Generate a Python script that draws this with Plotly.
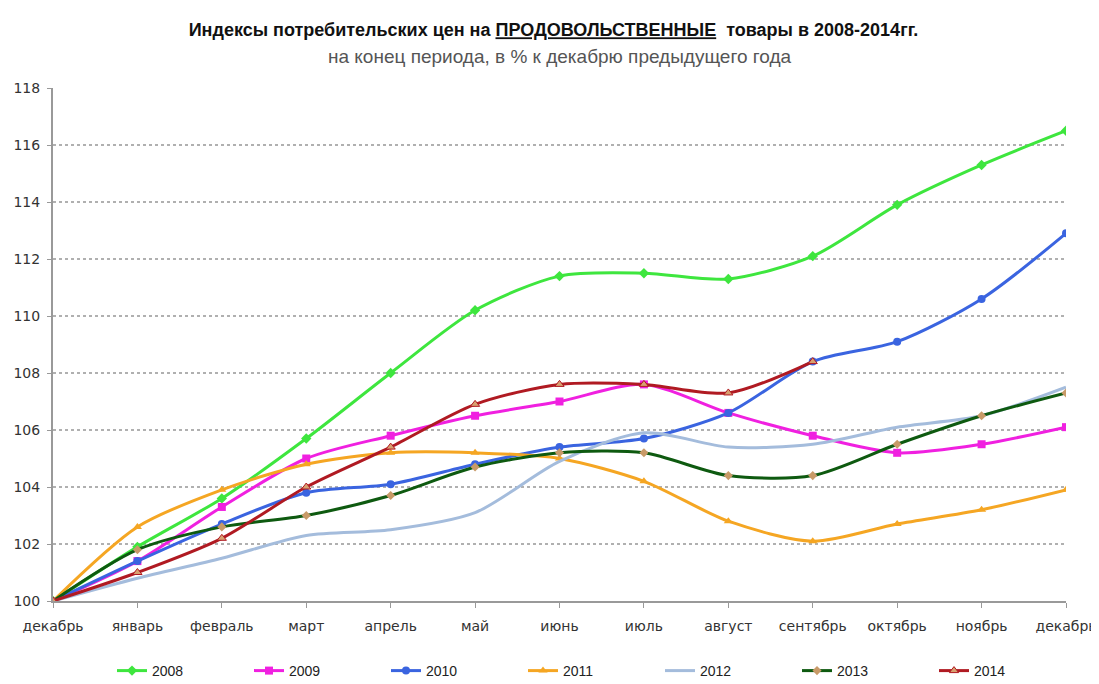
import plotly.graph_objects as go

months = ["декабрь", "январь", "февраль", "март", "апрель", "май", "июнь",
          "июль", "август", "сентябрь", "октябрь", "ноябрь", "декабрь"]

y2008 = [100, 101.9, 103.6, 105.7, 108.0, 110.2, 111.4, 111.5, 111.3, 112.1, 113.9, 115.3, 116.5]
y2009 = [100, 101.4, 103.3, 105.0, 105.8, 106.5, 107.0, 107.6, 106.6, 105.8, 105.2, 105.5, 106.1]
y2010 = [100, 101.4, 102.7, 103.8, 104.1, 104.8, 105.4, 105.7, 106.6, 108.4, 109.1, 110.6, 112.9]
y2011 = [100, 102.6, 103.9, 104.8, 105.2, 105.2, 105.0, 104.2, 102.8, 102.1, 102.7, 103.2, 103.9]
y2012 = [100, 100.8, 101.5, 102.3, 102.5, 103.1, 104.9, 105.9, 105.4, 105.5, 106.1, 106.5, 107.5]
y2013 = [100, 101.8, 102.6, 103.0, 103.7, 104.7, 105.2, 105.2, 104.4, 104.4, 105.5, 106.5, 107.3]
y2014 = [100, 101.0, 102.2, 104.0, 105.4, 106.9, 107.6, 107.6, 107.3, 108.4]

y_ticks = [100, 102, 104, 106, 108, 110, 112, 114, 116, 118]

x = list(range(len(months)))

series = [
    ("2008", y2008, "#3ee63e", dict(symbol="diamond", size=8, color="#3ee63e")),
    ("2009", y2009, "#f020e0", dict(symbol="square", size=8, color="#f020e0")),
    ("2010", y2010, "#3a64e0", dict(symbol="circle", size=8, color="#3a64e0")),
    ("2011", y2011, "#f5a623", dict(symbol="triangle-up", size=8, color="#f5a623")),
    ("2012", y2012, "#a4bcdc", None),
    ("2013", y2013, "#0e5a10", dict(symbol="diamond", size=7, color="#c89a68")),
    ("2014", y2014, "#b01a22", dict(symbol="triangle-up", size=8, color="#d8a070",
                                    line=dict(color="#b01a22", width=1))),
]

fig = go.Figure()
for name, ys, col, mk in series:
    fig.add_trace(go.Scatter(
        x=x[:len(ys)], y=ys, name=name,
        mode="lines+markers" if mk else "lines",
        line=dict(color=col, width=3, shape="spline", smoothing=0.8),
        marker=mk,
    ))

fig.update_layout(
    width=1091, height=676,
    paper_bgcolor="white", plot_bgcolor="white",
    margin=dict(l=45, r=33, t=80, b=83),
    font=dict(family="DejaVu Sans", size=14, color="#333333"),
    title=dict(
        text="<b>Индексы потребительских цен на <u>ПРОДОВОЛЬСТВЕННЫЕ</u>  товары в 2008-2014гг.</b>",
        x=0.5, xanchor="center", y=1 - 22 / 676, yanchor="middle",
        font=dict(family="Liberation Sans", size=18, color="#111111"),
    ),
    annotations=[dict(
        text="на конец периода, в % к декабрю предыдущего года",
        xref="paper", yref="paper", x=0.5, y=(593 - 48) / 513,
        xanchor="center", yanchor="middle", showarrow=False,
        font=dict(family="Liberation Sans", size=19, color="#555555"),
    )],
    xaxis=dict(
        tickvals=x, ticktext=months, range=[0, 12], automargin=False,
        showline=True, linecolor="#999999", linewidth=2,
        ticks="outside", tickcolor="#999999", ticklen=5,
        ticklabelstandoff=6,
        showgrid=False, zeroline=False,
        tickfont=dict(size=14, color="#333333"),
    ),
    yaxis=dict(
        range=[100, 118], tickvals=y_ticks, automargin=False,
        showline=True, linecolor="#999999", linewidth=2,
        ticks="outside", tickcolor="#999999", ticklen=4,
        ticklabelstandoff=4,
        showgrid=True, gridcolor="#b0b0b0", griddash="dot", gridwidth=1.5,
        zeroline=False,
        tickfont=dict(size=14, color="#333333"),
    ),
    legend=dict(
        orientation="h", x=0.5 + 32 / 1013, xanchor="center",
        yref="container", y=13 / 676, yanchor="middle",
        font=dict(family="Liberation Sans", size=14, color="#222222"),
        entrywidth=92, itemwidth=30, tracegroupgap=0,
    ),
)

fig.write_html("out.html")
